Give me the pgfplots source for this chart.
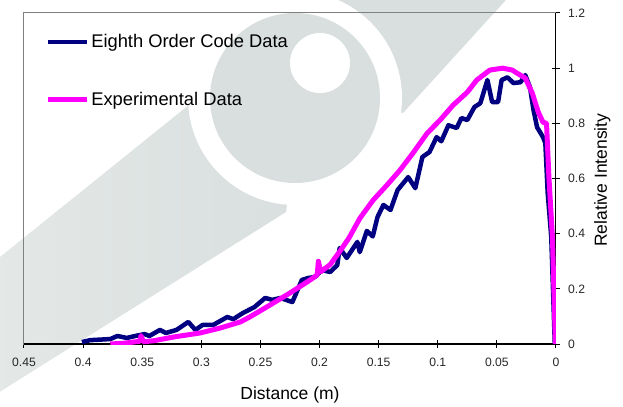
\documentclass[border=0pt]{standalone}
\usepackage{fontspec}
\setmainfont{Liberation Sans}
\usepackage{pgfplots}
\pgfplotsset{compat=1.18}
\usepackage{pgfplotstable}

\definecolor{navyline}{RGB}{0,0,128}
\definecolor{magline}{RGB}{255,0,255}
\definecolor{wmark}{RGB}{216,223,222}
\definecolor{wmarklight}{RGB}{228,232,231}
\definecolor{framegray}{RGB}{128,128,128}

% code (blue) series: distance (m), relative intensity
\pgfplotstableread{
x y
0.401 0.007
0.394 0.014
0.385 0.016
0.377 0.018
0.371 0.029
0.363 0.022
0.356 0.029
0.348 0.036
0.344 0.029
0.335 0.051
0.330 0.040
0.321 0.051
0.311 0.080
0.305 0.051
0.299 0.069
0.290 0.069
0.278 0.098
0.273 0.090
0.265 0.112
0.255 0.134
0.246 0.167
0.240 0.160
0.233 0.167
0.223 0.152
0.215 0.232
0.210 0.239
0.204 0.243
0.198 0.268
0.191 0.261
0.185 0.286
0.183 0.348
0.177 0.312
0.168 0.370
0.166 0.333
0.160 0.410
0.155 0.390
0.151 0.460
0.146 0.504
0.140 0.486
0.134 0.558
0.125 0.605
0.119 0.565
0.113 0.678
0.107 0.696
0.101 0.750
0.097 0.735
0.091 0.793
0.084 0.783
0.080 0.819
0.075 0.812
0.069 0.859
0.064 0.873
0.058 0.957
0.054 0.877
0.049 0.877
0.046 0.957
0.041 0.967
0.036 0.946
0.030 0.949
0.026 0.975
0.022 0.931
0.019 0.848
0.016 0.786
0.011 0.750
0.009 0.728
0.007 0.547
0.004 0.388
0.001 0.000
}\codedata

% experimental (magenta) series
\pgfplotstableread{
x y
0.377 0.000
0.365 0.003
0.352 0.010
0.351 0.030
0.349 0.008
0.340 0.012
0.324 0.025
0.301 0.040
0.284 0.058
0.267 0.080
0.259 0.098
0.242 0.141
0.225 0.185
0.208 0.232
0.202 0.250
0.201 0.300
0.199 0.262
0.191 0.288
0.183 0.335
0.175 0.385
0.166 0.455
0.155 0.520
0.143 0.576
0.132 0.630
0.121 0.692
0.109 0.764
0.098 0.812
0.087 0.866
0.075 0.913
0.067 0.957
0.056 0.993
0.045 1.000
0.037 0.993
0.033 0.982
0.026 0.964
0.020 0.909
0.015 0.841
0.011 0.804
0.008 0.800
0.006 0.605
0.003 0.388
0.0005 0.000
}\expdata

\begin{document}
\begin{tikzpicture}
\useasboundingbox (0,0) rectangle (373.8pt,243.6pt);
% faint logo watermark behind the chart (pixel coords, y down)
\begin{scope}[x=0.6pt, y=-0.6pt, shift={(0,243.6pt)}]
  \shade[left color=wmarklight, right color=wmark]
    (-10,265) -- (200,96) -- (300,98) -- (286,212) -- (-10,398) -- cycle;
  \fill[wmark] (330,-10) -- (515,-10) -- (403,113) -- (300,98) -- cycle;
  \fill[white] (295,98) circle (107);
  \fill[wmark] (295,98) circle (85);
  \fill[white] (320,63) circle (30);
\end{scope}

\begin{axis}[
    at={(14.4pt,37.2pt)}, anchor=south west,
    scale only axis,
    width=319.2pt, height=198.6pt,
    x dir=reverse,
    xmin=0, xmax=0.45, ymin=0, ymax=1.2,
    xtick={0,0.05,0.1,0.15,0.2,0.25,0.3,0.35,0.4,0.45},
    ytick={0,0.2,0.4,0.6,0.8,1,1.2},
    xtick pos=left,
    ytick pos=right,
    yticklabel pos=right,
    tick align=center,
    major tick length=4.5pt,
    tick style={black, line width=0.6pt},
    axis line style={framegray, line width=0.6pt},
    ticklabel style={font=\fontsize{7.3}{8.5}\selectfont, text=black!85},
    xticklabel style={yshift=-2.5pt},
    yticklabel style={xshift=1.5pt},
    /pgf/number format/assume math mode=true,
    /pgf/number format/fixed,
    /pgf/number format/precision=2,
    xlabel={Distance (m)},
    ylabel={Relative Intensity},
    xlabel style={at={(axis description cs:0.5,-0.154)}, anchor=center, font=\fontsize{10.5}{12}\selectfont},
    ylabel style={at={(axis description cs:1.087,0.495)}, anchor=center, font=\fontsize{10.5}{12}\selectfont},
    legend style={at={(axis description cs:0.040,0.825)}, anchor=west,
        draw=none, fill=none, font=\fontsize{11}{13}\selectfont,
        row sep=23pt, inner sep=0pt,
        nodes={inner xsep=1pt, inner ysep=1pt}},
    legend cell align=left,
    legend image code/.code={\draw[#1] (0pt,0pt) -- (23.4pt,0pt);},
]
\draw[black, line width=0.8pt] (axis cs:0.45,0) -- (axis cs:0,0);
\draw[black, line width=0.8pt] (axis cs:0,0) -- (axis cs:0,1.2);
\addplot[navyline, line width=2.7pt, line join=round] table {\codedata};
\addlegendentry{Eighth Order Code Data}
\addplot[magline, line width=3pt, line join=round] table {\expdata};
\addlegendentry{Experimental Data}
\end{axis}
\end{tikzpicture}
\end{document}
